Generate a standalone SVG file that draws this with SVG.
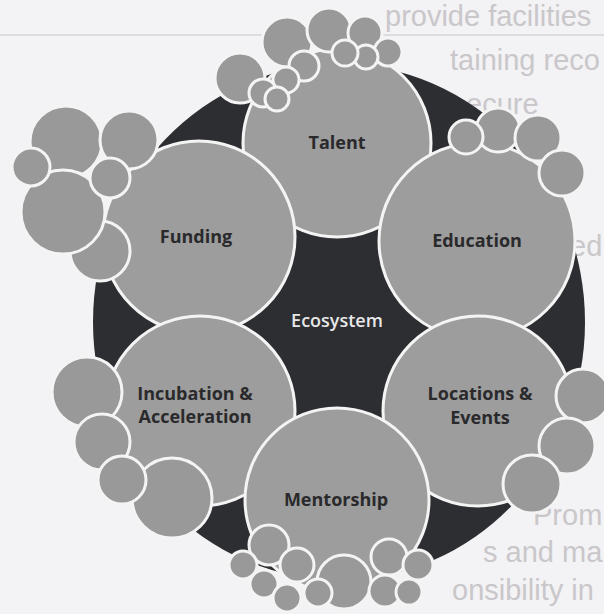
<svg xmlns="http://www.w3.org/2000/svg" width="604" height="614" viewBox="0 0 604 614">
<style>
.pg{font-family:"Liberation Sans",Arial,sans-serif;font-size:29px;fill:#c9c7ca}
.rule{stroke:#d6d4d7;stroke-width:1.5}
.dark{fill:#2d2e32}
.big{fill:#9d9d9d;stroke:#f4f4f4;stroke-width:3}
.sm{fill:#999999;stroke:#f4f4f4;stroke-width:3}
.lbl{font-family:"Open Sans","Liberation Sans",sans-serif;font-weight:700;font-size:18px;fill:#2a2a2c;text-anchor:middle}
.eco{fill:#e8e8e8;font-weight:600}
</style>
<rect width="604" height="614" fill="#f3f2f4"/>
<g id="page-text">
<text class="pg" x="385" y="26">provide facilities</text>
<line class="rule" x1="0" y1="35" x2="604" y2="35"/>
<text class="pg" x="450" y="70">taining reco</text>
<text class="pg" x="466" y="114">ecure</text>
<text class="pg" x="570" y="256">ed</text>
<text class="pg" x="533" y="525">Prom</text>
<text class="pg" x="483" y="562">s and ma</text>
<text class="pg" x="452" y="600">onsibility in</text>
</g>
<g id="ecosystem">
<ellipse class="dark" cx="339" cy="322" rx="246" ry="258"/>
<text class="lbl eco" x="337" y="327">Ecosystem</text>
</g>
<g id="talent">
<circle class="big" cx="337" cy="143" r="94"/>
<circle class="sm" cx="240" cy="78" r="25"/>
<circle class="sm" cx="287" cy="42" r="25"/>
<circle class="sm" cx="329" cy="30" r="22"/>
<circle class="sm" cx="365" cy="33" r="17"/>
<circle class="sm" cx="388" cy="52" r="14"/>
<circle class="sm" cx="366" cy="57" r="12"/>
<circle class="sm" cx="345" cy="53" r="13"/>
<circle class="sm" cx="304" cy="66" r="15"/>
<circle class="sm" cx="286" cy="80" r="13"/>
<circle class="sm" cx="263" cy="93" r="14"/>
<circle class="sm" cx="277" cy="99" r="12"/>
<text class="lbl" x="337" y="149">Talent</text>
</g>
<g id="funding">
<circle class="big" cx="199" cy="237" r="96"/>
<circle class="sm" cx="66" cy="142" r="36"/>
<circle class="sm" cx="129" cy="140" r="29"/>
<circle class="sm" cx="100" cy="251" r="30"/>
<circle class="sm" cx="63" cy="212" r="42"/>
<circle class="sm" cx="31" cy="167" r="19"/>
<circle class="sm" cx="110" cy="178" r="20"/>
<text class="lbl" x="196" y="243">Funding</text>
</g>
<g id="education">
<circle class="big" cx="477" cy="241" r="98"/>
<circle class="sm" cx="498" cy="130" r="22"/>
<circle class="sm" cx="466" cy="137" r="17"/>
<circle class="sm" cx="538" cy="138" r="23"/>
<circle class="sm" cx="562" cy="173" r="23"/>
<text class="lbl" x="477" y="247">Education</text>
</g>
<g id="incubation">
<circle class="big" cx="200" cy="411" r="95"/>
<circle class="sm" cx="87" cy="392" r="35"/>
<circle class="sm" cx="102" cy="442" r="28"/>
<circle class="sm" cx="172" cy="498" r="40"/>
<circle class="sm" cx="122" cy="480" r="24"/>
<text class="lbl" x="195" y="400">Incubation &amp;</text>
<text class="lbl" x="195" y="423">Acceleration</text>
</g>
<g id="locations">
<circle class="big" cx="478" cy="411" r="95"/>
<circle class="sm" cx="583" cy="396" r="27"/>
<circle class="sm" cx="567" cy="446" r="28"/>
<circle class="sm" cx="532" cy="484" r="29"/>
<text class="lbl" x="480" y="400">Locations &amp;</text>
<text class="lbl" x="480" y="424">Events</text>
</g>
<g id="mentorship">
<circle class="big" cx="337" cy="500" r="92"/>
<circle class="sm" cx="269" cy="545" r="20"/>
<circle class="sm" cx="344" cy="582" r="27"/>
<circle class="sm" cx="297" cy="565" r="17"/>
<circle class="sm" cx="243" cy="565" r="14"/>
<circle class="sm" cx="264" cy="584" r="14"/>
<circle class="sm" cx="287" cy="598" r="14"/>
<circle class="sm" cx="318" cy="593" r="14"/>
<circle class="sm" cx="389" cy="557" r="18"/>
<circle class="sm" cx="418" cy="565" r="15"/>
<circle class="sm" cx="385" cy="591" r="16"/>
<circle class="sm" cx="409" cy="592" r="13"/>
<text class="lbl" x="336" y="506">Mentorship</text>
</g>
</svg>
